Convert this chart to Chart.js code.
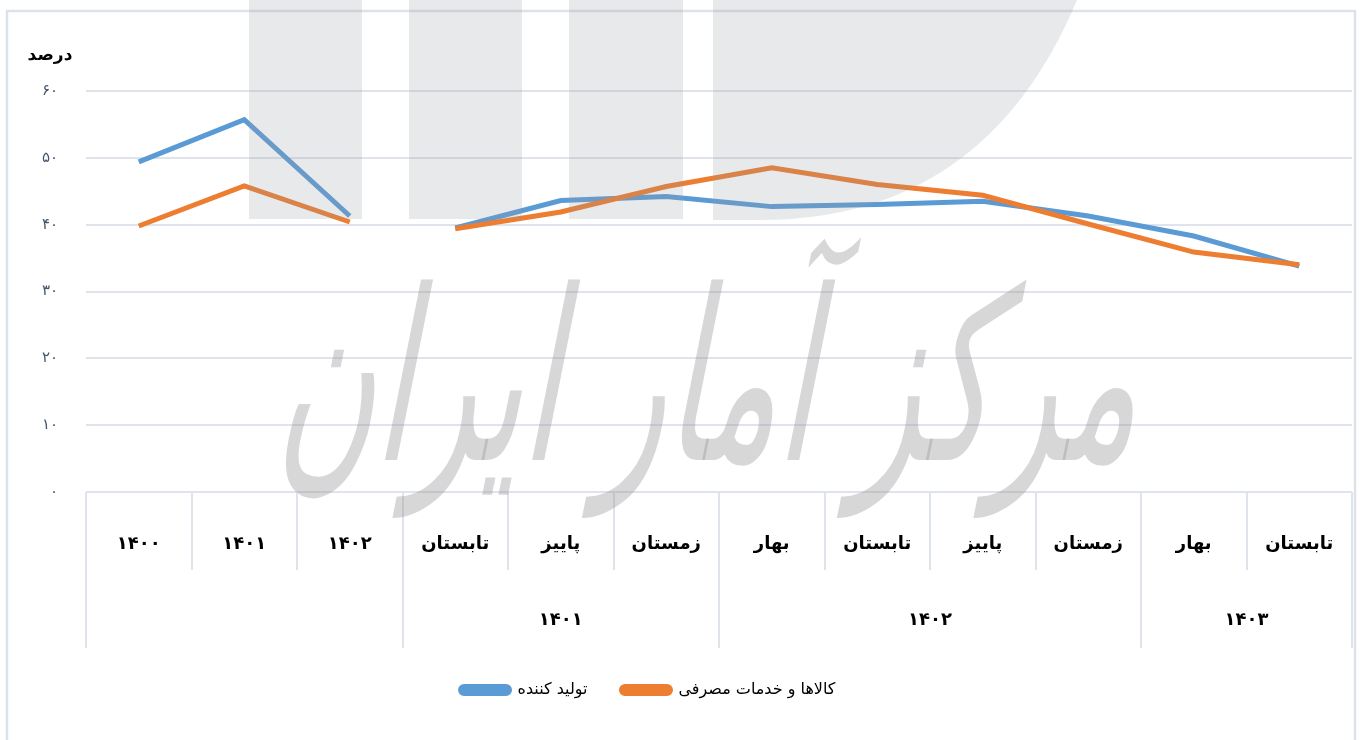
<!DOCTYPE html>
<html><head><meta charset="utf-8">
<script src="https://cdn.jsdelivr.net/npm/chart.js@4.4.1/dist/chart.umd.min.js"></script>
<style>html,body{margin:0;padding:0;background:#fff;overflow:hidden;} #wrap{width:1362px;height:740px;}</style>
</head><body><div id="wrap"><canvas id="c" width="1362" height="740"></canvas></div>
<script>
const categories = ['۱۴۰۰','۱۴۰۱','۱۴۰۲','تابستان','پاییز','زمستان','بهار','تابستان','پاییز','زمستان','بهار','تابستان'];
const producerValues = [49.4, 55.7, 41.3, 39.5, 43.6, 44.2, 42.7, 43.0, 43.5, 41.3, 38.3, 33.8];
const consumerValues = [39.8, 45.8, 40.4, 39.4, 41.9, 45.7, 48.5, 46.0, 44.4, 40.1, 35.9, 34.0];
const yTickLabels = ['۰','۱۰','۲۰','۳۰','۴۰','۵۰','۶۰'];
const groupLabels = ['۱۴۰۱','۱۴۰۲','۱۴۰۳'];
const groupFirst = [3, 6, 10];
const groupLast = [5, 9, 11];
const seriesNames = ['تولید کننده', 'کالاها و خدمات مصرفی'];
const yAxisTitle = 'درصد';
const watermarkText = 'مرکز آمار ایران';
const breakAfterIndex = 2;

const FONT = "'DejaVu Sans', 'Noto Sans', sans-serif";
const GRID = '#dfe3eb';
const BLUE = '#5B9BD5';
const ORANGE = '#ED7D31';

const decor = {
  id: 'decor',
  afterLayout(chart) {
    const lg = chart.legend;
    if (lg) { lg.right -= 56; }
  },
  beforeDraw(chart) {
    const ctx = chart.ctx;
    ctx.save();
    ctx.fillStyle = '#fff';
    ctx.fillRect(0, 0, chart.width, chart.height);
    ctx.strokeStyle = '#dde2ea';
    ctx.lineWidth = 2.5;
    ctx.strokeRect(7, 11, 1348, 800);
    ctx.restore();
  },
  afterDraw(chart) {
    const ctx = chart.ctx;
    const x = chart.scales.x;
    const area = chart.chartArea;
    const n = categories.length;
    const b = [];
    for (let i = 0; i <= n; i++) {
      if (i === 0) b.push(x.left);
      else if (i === n) b.push(x.right);
      else b.push((x.getPixelForValue(i - 1) + x.getPixelForValue(i)) / 2);
    }
    const longIdx = new Set([0, n]);
    groupFirst.forEach(v => longIdx.add(v));
    groupLast.forEach(v => longIdx.add(v + 1));
    ctx.save();
    ctx.strokeStyle = GRID;
    ctx.lineWidth = 2;
    for (let i = 0; i <= n; i++) {
      const px = Math.round(b[i]);
      ctx.beginPath();
      ctx.moveTo(px, area.bottom);
      ctx.lineTo(px, area.bottom + (longIdx.has(i) ? 156 : 78));
      ctx.stroke();
    }
    ctx.fillStyle = '#000';
    ctx.font = 'bold 18px ' + FONT;
    ctx.textAlign = 'center';
    ctx.textBaseline = 'middle';
    groupLabels.forEach((g, k) => {
      const cx = (b[groupFirst[k]] + b[groupLast[k] + 1]) / 2;
      ctx.fillText(g, cx, area.bottom + 128);
    });
    // y axis title
    ctx.font = 'bold 17px ' + FONT;
    ctx.fillText(yAxisTitle, 50, 56);

    // watermark overlay
    ctx.fillStyle = 'rgba(150,155,160,0.22)';
    [[249, 362], [409, 522], [569, 683]].forEach(([l, r]) => ctx.fillRect(l, 0, r - l, 219));
    ctx.beginPath();
    ctx.moveTo(713, 0);
    ctx.lineTo(1077, 0);
    ctx.quadraticCurveTo(985, 220, 760, 220);
    ctx.lineTo(713, 220);
    ctx.closePath();
    ctx.fill();
    ctx.fillStyle = 'rgba(150,150,150,0.38)';
    ctx.font = '190px ' + FONT;
    const w = ctx.measureText(watermarkText).width;
    ctx.translate(705, 460);
    ctx.transform(1, 0, -0.2, 1, 0, 0);
    ctx.scale(860 / w, 1.25);
    ctx.textAlign = 'center';
    ctx.textBaseline = 'alphabetic';
    ctx.fillText(watermarkText, 0, 0);
    ctx.restore();
  }
};

new Chart(document.getElementById('c'), {
  type: 'line',
  data: {
    labels: categories,
    datasets: [
      { label: seriesNames[1], data: consumerValues, borderColor: ORANGE, backgroundColor: ORANGE,
        borderWidth: 5, pointRadius: 0, tension: 0,
        segment: { borderColor: c => c.p0DataIndex === breakAfterIndex ? 'rgba(0,0,0,0)' : undefined } },
      { label: seriesNames[0], data: producerValues, borderColor: BLUE, backgroundColor: BLUE,
        borderWidth: 5, pointRadius: 0, tension: 0,
        segment: { borderColor: c => c.p0DataIndex === breakAfterIndex ? 'rgba(0,0,0,0)' : undefined } }
    ]
  },
  options: {
    responsive: false,
    devicePixelRatio: 1,
    animation: false,
    events: [],
    layout: { padding: { top: 91, left: 0, right: 10, bottom: 32 } },
    scales: {
      x: {
        offset: true,
        grid: { display: false, drawTicks: false },
        border: { display: false },
        ticks: { autoSkip: false, maxRotation: 0, padding: 42, color: '#000', font: { family: FONT, size: 18, weight: 'bold' } },
        afterFit: s => { s.height = 156; s.paddingLeft = 0; s.paddingRight = 0; }
      },
      y: {
        min: 0, max: 60,
        grid: { color: GRID, lineWidth: 2, drawTicks: false },
        border: { display: false },
        ticks: { stepSize: 10, padding: 28, color: '#44546A', font: { family: FONT, size: 15 },
          callback: (v) => yTickLabels[Math.round(v / 10)] },
        afterFit: s => { s.width = 86; s.paddingTop = 0; s.paddingBottom = 0; }
      }
    },
    plugins: {
      tooltip: { enabled: false },
      legend: {
        position: 'bottom',
        reverse: true,
        labels: { boxWidth: 49, boxHeight: 7, useBorderRadius: true, borderRadius: 3.5, padding: 34,
          color: '#000', font: { family: FONT, size: 16 } }
      }
    }
  },
  plugins: [decor]
});
</script>
</body></html>
